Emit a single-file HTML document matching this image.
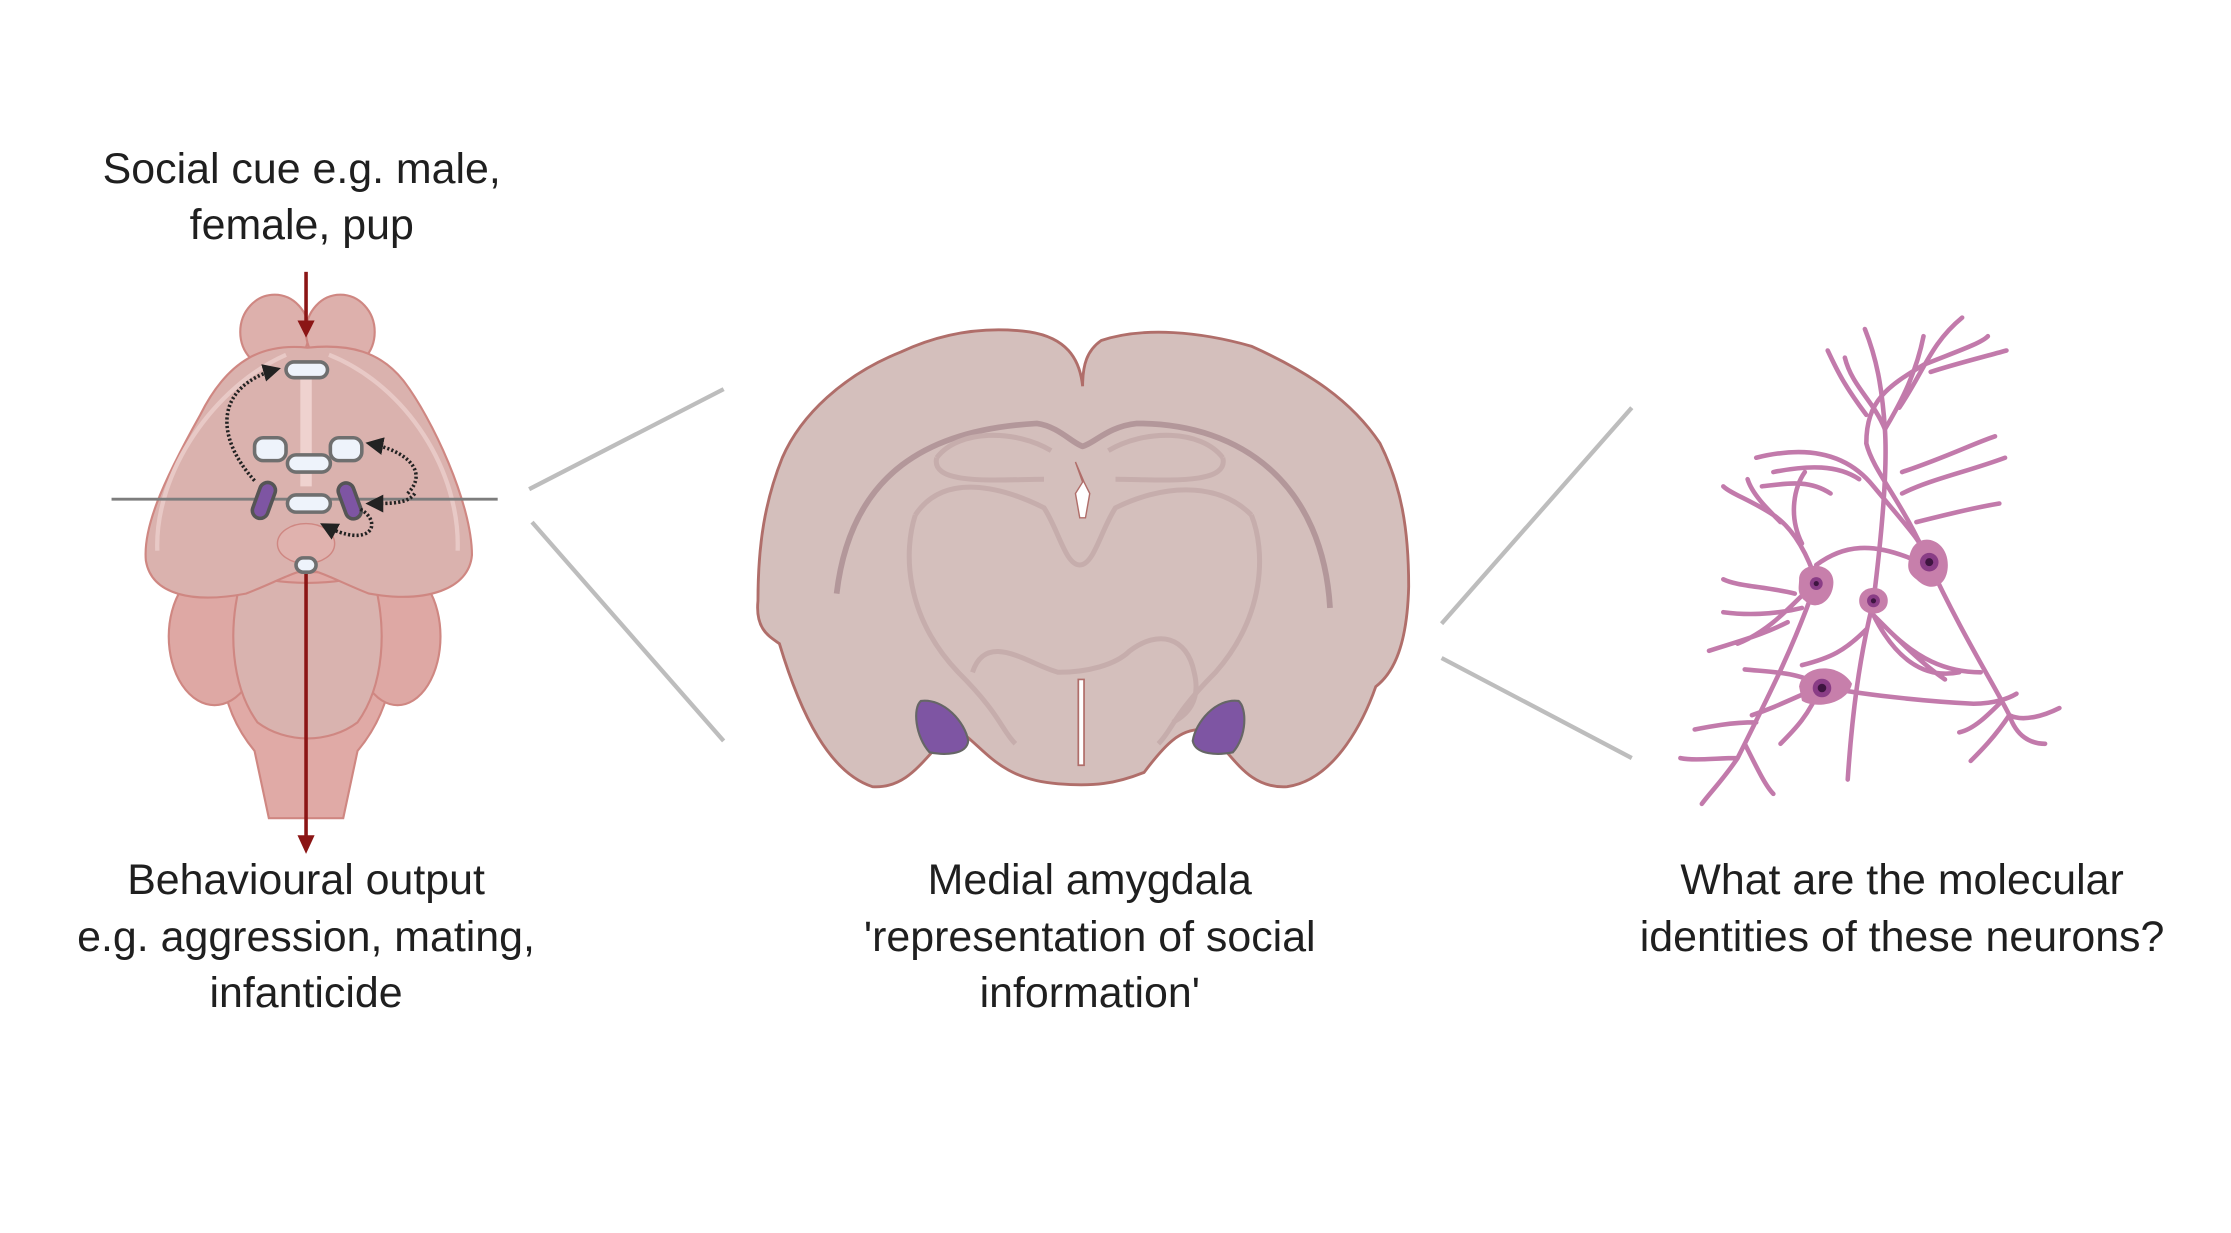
<!DOCTYPE html>
<html><head><meta charset="utf-8"><style>
html,body{margin:0;padding:0;background:#fff;}
svg{display:block;}
text{font-family:"Liberation Sans",sans-serif;font-size:30px;fill:#1f1f1f;text-anchor:middle;}
</style></head><body>
<svg width="2231" height="1233" viewBox="0 0 1560 862" xmlns="http://www.w3.org/2000/svg">
<defs>
<marker id="ar" viewBox="0 0 10 10" refX="8" refY="5" markerWidth="5" markerHeight="5" orient="auto"><path d="M0,0 L10,5 L0,10 Z" fill="#222"/></marker>
</defs>
<text x="211" y="128">Social cue e.g. male,</text>
<text x="211" y="167">female, pup</text>
<text x="214" y="625">Behavioural output</text>
<text x="214" y="665">e.g. aggression, mating,</text>
<text x="214" y="704">infanticide</text>
<text x="762" y="625">Medial amygdala</text>
<text x="762" y="665">'representation of social</text>
<text x="762" y="704">information'</text>
<text x="1330" y="625">What are the molecular</text>
<text x="1330" y="665">identities of these neurons?</text>

<g stroke="#bdbdbd" stroke-width="3" fill="none">
<line x1="370" y1="342" x2="506" y2="272"/>
<line x1="372" y1="365" x2="506" y2="518"/>
<line x1="1008" y1="436" x2="1141" y2="285"/>
<line x1="1008" y1="460" x2="1141" y2="530"/>
</g>

<g stroke="#cf8782" stroke-width="1.5">
<path d="M168 400 L262 400 C285 450 275 495 250 525 L240 572 L188 572 L178 525 C153 495 145 450 168 400 Z" fill="#e0aaa6"/>
<ellipse cx="150" cy="445" rx="32" ry="48" fill="#dea8a4"/>
<ellipse cx="278" cy="445" rx="30" ry="48" fill="#dea8a4"/>
<path d="M170 400 C190 410 240 410 260 400 C272 440 268 480 250 505 C230 520 200 520 180 505 C162 480 158 440 170 400Z" fill="#d9b3af"/>
<ellipse cx="192" cy="232" rx="24" ry="26" fill="#ddb0ac"/>
<ellipse cx="238" cy="232" rx="24" ry="26" fill="#ddb0ac"/>
<path d="M215 243 C185 240 160 250 140 290 C112 340 100 370 102 392 C106 416 135 422 172 415 C190 408 205 400 215 398 C226 400 240 408 258 415 C298 422 328 412 330 388 C330 352 302 292 282 266 C266 246 245 240 215 243 Z" fill="#dab2ae"/>
</g>
<path d="M110 385 C108 330 150 270 200 248" stroke="#e8c9c6" stroke-width="3" fill="none"/>
<path d="M320 385 C322 330 285 270 230 248" stroke="#e8c9c6" stroke-width="3" fill="none"/>
<line x1="214" y1="265" x2="214" y2="340" stroke="#efd2cf" stroke-width="8"/>
<ellipse cx="214" cy="380" rx="20" ry="14" fill="#e0b2ae" stroke="#cf8782"/>
<line x1="214" y1="190" x2="214" y2="226" stroke="#8b1515" stroke-width="2.5"/>
<path d="M208 224 L220 224 L214 236 Z" fill="#8b1515"/>
<line x1="214" y1="400" x2="214" y2="585" stroke="#8b1515" stroke-width="2.5"/>
<path d="M208 584 L220 584 L214 597 Z" fill="#8b1515"/>
<line x1="78" y1="349" x2="348" y2="349" stroke="#7d7d7d" stroke-width="2"/>
<g fill="#eef3fb" stroke="#6f6f6f" stroke-width="2.5">
<rect x="200" y="253" width="29" height="11" rx="5.5"/>
<rect x="178" y="306" width="22" height="16" rx="6"/>
<rect x="231" y="306" width="22" height="16" rx="6"/>
<rect x="201" y="318" width="30" height="12" rx="6"/>
<rect x="201" y="346" width="30" height="12" rx="6"/>
<rect x="207" y="390" width="14" height="10" rx="5"/>
</g>
<g fill="#7e55a3" stroke="#555" stroke-width="2.5">
<rect x="179" y="337" width="11" height="26" rx="5.5" transform="rotate(20 185 350)"/>
<rect x="239" y="337" width="11" height="26" rx="5.5" transform="rotate(-20 245 350)"/>
</g>
<g stroke="#222" stroke-width="2.5" stroke-dasharray="1.5 1.5" fill="none" marker-end="url(#ar)">
<path d="M178 336 C150 305 150 270 194 258"/>
<path d="M285 345 C300 330 285 315 258 310"/>
<path d="M252 356 C268 365 260 385 226 367"/>
<path d="M290 345 C285 352 275 352 258 352"/>
</g>

<path d="M757 270 C755 250 745 236 720 232 C690 228 660 232 630 246 C590 262 560 290 547 320 C535 350 530 380 530 420 C528 440 538 445 545 450 C560 500 580 540 610 550 C640 552 650 520 670 510 C690 525 700 545 740 548 C765 550 780 548 800 540 C815 520 825 510 840 510 C860 520 868 552 900 550 C935 545 955 500 962 480 C975 470 984 450 985 410 C985 370 980 340 965 310 C945 280 915 260 875 242 C840 232 800 228 770 238 C760 245 757 255 757 270 Z" fill="#d4bfbc" stroke="#b06e6a" stroke-width="2"/>
<path d="M585 415 C595 330 650 300 725 296 C740 298 750 310 757 312 C765 310 775 298 795 296 C870 296 925 340 930 425" stroke="#b3979a" stroke-width="4" fill="none"/>
<g stroke="#c6adac" stroke-width="3.5" fill="none">
<path d="M640 360 C632 385 632 430 670 470 C700 500 700 510 710 520"/>
<path d="M875 360 C885 385 885 430 850 470 C820 500 820 510 810 520"/>
<path d="M640 360 C660 330 700 340 730 355 C740 370 745 395 755 395 C765 395 770 370 780 355 C810 340 850 335 875 360"/>
<path d="M655 320 C670 300 710 300 735 315 M655 320 C650 340 700 335 730 335"/>
<path d="M855 320 C840 300 800 300 775 315 M855 320 C860 340 810 335 780 335"/>
<path d="M680 470 C690 440 720 465 740 470 C760 470 780 465 790 455 C810 440 830 445 835 470 C840 490 830 500 820 505"/>
</g>
<path d="M752 323 L757 337 L752 345 L755 362 L759 362 L762 345 L758 337 Z" fill="#fff" stroke="#b06e6a"/>
<path d="M754 475 L754 535 L758 535 L758 475 Z" fill="#fff" stroke="#b06e6a" stroke-width="1.2"/>
<path d="M644 490 C660 488 675 505 677 518 C676 528 660 528 650 526 C640 515 638 495 644 490 Z" fill="#7e55a3" stroke="#666" stroke-width="1.5"/>
<path d="M866 490 C850 488 836 505 834 518 C836 528 852 528 862 526 C872 515 872 495 866 490 Z" fill="#7e55a3" stroke="#666" stroke-width="1.5"/>

<g stroke="#c27aab" stroke-width="3.2" fill="none" stroke-linecap="round">
<path d="M1228 320 C1260 312 1290 315 1310 340 C1335 370 1345 380 1348 392"/>
<path d="M1240 330 C1265 325 1285 325 1300 335 M1232 340 C1250 338 1265 335 1280 345"/>
<path d="M1348 392 C1330 350 1310 330 1305 310 C1305 280 1320 270 1345 255 C1370 245 1385 240 1390 235"/>
<path d="M1310 420 C1315 380 1320 330 1318 300 C1316 270 1312 250 1304 230"/>
<path d="M1318 300 C1330 280 1340 260 1345 235 M1328 285 C1345 260 1350 240 1372 222"/>
<path d="M1318 300 C1310 280 1295 270 1290 250 M1305 290 C1290 270 1285 260 1278 245"/>
<path d="M1350 260 C1365 255 1385 250 1403 245 M1330 330 C1360 320 1380 310 1395 305 M1330 345 C1350 335 1375 330 1402 320 M1340 365 C1360 360 1380 355 1398 352"/>
<path d="M1270 407 C1265 390 1255 370 1240 360 C1225 350 1210 345 1205 340 M1260 380 C1250 360 1255 340 1262 330 M1270 395 C1290 380 1310 380 1335 390 M1245 365 C1235 355 1225 345 1222 335"/>
<path d="M1270 407 C1255 420 1240 440 1215 450 M1260 425 C1240 430 1220 430 1205 428 M1255 415 C1235 410 1215 410 1205 405 M1250 435 C1230 445 1210 450 1195 455"/>
<path d="M1270 407 C1255 450 1240 480 1215 530 C1205 545 1195 555 1190 562 M1215 530 C1200 530 1185 532 1175 530 M1220 520 C1230 540 1235 550 1240 555 M1228 505 C1210 505 1195 508 1185 510"/>
<path d="M1348 392 C1370 440 1395 480 1405 500 C1415 505 1430 500 1440 495 M1405 500 C1395 515 1385 525 1378 532 M1405 500 C1410 515 1420 520 1430 520 M1400 490 C1390 500 1380 510 1370 512"/>
<path d="M1273 480 C1300 485 1340 490 1380 492 C1395 492 1405 488 1410 485 M1273 480 C1250 490 1240 495 1225 500 M1273 480 C1260 470 1240 470 1220 468 M1273 480 C1265 500 1255 510 1245 520"/>
<path d="M1310 420 C1300 460 1295 500 1292 545 M1310 430 C1325 460 1345 475 1370 470 M1310 430 C1330 450 1345 465 1360 475 M1305 440 C1290 455 1280 460 1260 465 M1320 440 C1340 460 1360 470 1385 470"/>
</g>
<g fill="#c77fab">
<path d="M1258 405 C1258 392 1282 392 1282 407 C1282 420 1270 428 1262 420 C1256 415 1258 410 1258 405Z"/>
<path d="M1300 420 C1300 408 1320 408 1320 420 C1320 432 1300 432 1300 420Z"/>
<path d="M1335 390 C1338 370 1362 375 1362 395 C1362 410 1350 415 1340 405 C1333 400 1334 395 1335 390Z"/>
<path d="M1258 480 C1260 465 1285 462 1295 478 C1292 492 1270 496 1260 490Z"/>
</g>
<g fill="#8a3d86">
<circle cx="1270" cy="408" r="4.5"/><circle cx="1310" cy="420" r="4.5"/><circle cx="1349" cy="393" r="6.5"/><circle cx="1274" cy="481" r="6.5"/>
</g>
<g fill="#3e1540">
<circle cx="1270" cy="408" r="1.8"/><circle cx="1310" cy="420" r="1.8"/><circle cx="1349" cy="393" r="2.8"/><circle cx="1274" cy="481" r="3"/>
</g>
</svg>
</body></html>
